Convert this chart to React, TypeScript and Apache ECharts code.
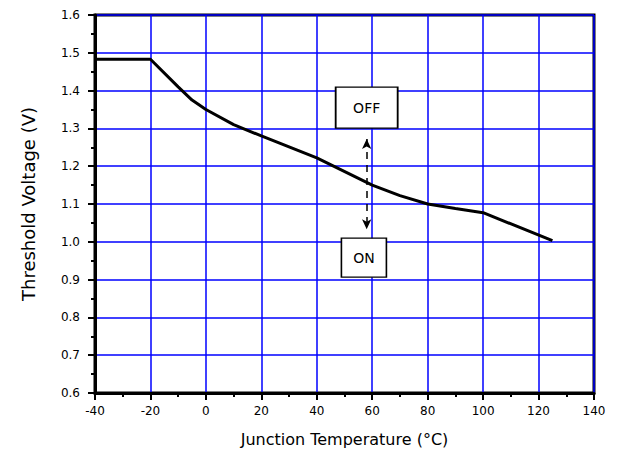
import React, { useEffect, useRef } from "react";
import * as echarts from "echarts";

const temperatures = [-40, -20, -10, -5, 0, 10, 20, 40, 60, 70, 80, 90, 100, 125];
const voltages = [1.483, 1.483, 1.41, 1.375, 1.35, 1.31, 1.28, 1.222, 1.15, 1.122, 1.1, 1.088, 1.077, 1.003];
const offLabel = { text: "OFF", x: 58, y: 1.355 };
const onLabel = { text: "ON", x: 57, y: 0.958 };
const arrow = { x: 58, top: 1.272, bottom: 1.033 };

export default function App() {
  const ref = useRef<HTMLDivElement>(null);
  useEffect(() => {
    const chart = echarts.init(ref.current!, null, { renderer: "svg" });
    const font = "DejaVu Sans, Verdana, sans-serif";
    chart.setOption({
      animation: false,
      backgroundColor: "#fff",
      grid: {
        left: 95,
        top: 15,
        right: 28,
        bottom: 72,
        show: true,
        borderColor: "#000",
        borderWidth: 3,
      },
      xAxis: {
        type: "value",
        min: -40,
        max: 140,
        interval: 20,
        name: "Junction Temperature (°C)",
        nameLocation: "middle",
        nameGap: 38,
        nameTextStyle: { color: "#000", fontSize: 16, fontFamily: font },
        axisLine: { show: true, onZero: false, lineStyle: { color: "#000", width: 3 } },
        axisTick: { show: true, inside: false, length: 7, lineStyle: { color: "#000", width: 2 } },
        minorTick: { show: true, splitNumber: 2, length: 4, lineStyle: { color: "#000", width: 2 } },
        axisLabel: { color: "#000", fontSize: 12, fontFamily: font, margin: 12 },
        splitLine: { show: true, lineStyle: { color: "#0000ff", width: 1.5 } },
      },
      yAxis: {
        type: "value",
        min: 0.6,
        max: 1.6,
        interval: 0.1,
        name: "Threshold Voltage (V)",
        nameLocation: "middle",
        nameGap: 58,
        nameTextStyle: { color: "#000", fontSize: 18, fontFamily: font },
        axisLine: { show: true, onZero: false, lineStyle: { color: "#000", width: 3 } },
        axisTick: { show: true, inside: false, length: 7, lineStyle: { color: "#000", width: 2 } },
        minorTick: { show: true, splitNumber: 2, length: 4, lineStyle: { color: "#000", width: 2 } },
        axisLabel: {
          color: "#000",
          fontSize: 12,
          fontFamily: font,
          margin: 15,
          formatter: (v: number) => v.toFixed(1),
        },
        splitLine: { show: true, lineStyle: { color: "#0000ff", width: 1.5 } },
      },
      series: [
        {
          type: "line",
          data: temperatures.map((t, i) => [t, voltages[i]]),
          showSymbol: false,
          smooth: false,
          lineStyle: { color: "#000", width: 3 },
          z: 5,
          markLine: {
            silent: true,
            symbol: ["arrow", "arrow"],
            symbolSize: [7, 10],
            label: { show: false },
            lineStyle: { color: "#000", width: 1.5, type: [7, 6] },
            data: [[{ coord: [arrow.x, arrow.top] }, { coord: [arrow.x, arrow.bottom] }]],
          },
          markPoint: {
            silent: true,
            data: [
              {
                coord: [offLabel.x, offLabel.y],
                symbol: "rect",
                symbolSize: [62, 41],
                value: offLabel.text,
              },
              {
                coord: [onLabel.x, onLabel.y],
                symbol: "rect",
                symbolSize: [45, 39],
                value: onLabel.text,
              },
            ],
            itemStyle: { color: "#fff", borderColor: "#000", borderWidth: 1.5 },
            label: {
              show: true,
              position: "inside",
              color: "#000",
              fontSize: 14,
              fontFamily: font,
              formatter: (p: any) => p.value,
            },
          },
        },
      ],
    });
    return () => chart.dispose();
  }, []);
  return <div ref={ref} style={{ width: 622, height: 465, position: "absolute", left: 0, top: 0 }} />;
}
